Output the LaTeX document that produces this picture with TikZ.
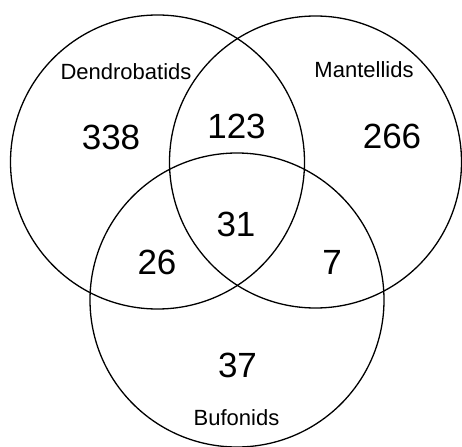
\documentclass[tikz,border=0pt]{standalone}
\usepackage{fontspec}
\setmainfont{Liberation Sans}
\begin{document}
\begin{tikzpicture}[x=1pt,y=-1pt,
  setcircle/.style={draw=black,line width=1.3pt},
  num/.style={inner sep=0pt,font=\fontsize{35}{38}\selectfont},
  lab/.style={inner sep=0pt,font=\fontsize{22}{24}\selectfont}]
\useasboundingbox (0,0) rectangle (462,446);
\clip (0,0) rectangle (462,446);
\draw[setcircle] (157.5,162) circle (147);
\draw[setcircle] (315.5,162) circle (146);
\draw[setcircle] (237,300) circle (147);
\node[lab] (dlab) at (126,72) {Dendrobatids};
\node[lab] (mlab) at (364,70) {Mantellids};
\node[lab] (blab) at (236.5,418) {Bufonids};
\node[num] (n338) at (111,137) {338};
\node[num] (n123) at (236.5,126) {123};
\node[num] (n266) at (392,136) {266};
\node[num] (n31) at (236,224) {31};
\node[num] (n26) at (157,262) {26};
\node[num] (n7) at (332,262) {7};
\node[num] (n37) at (237.5,365) {37};
\end{tikzpicture}
\end{document}
